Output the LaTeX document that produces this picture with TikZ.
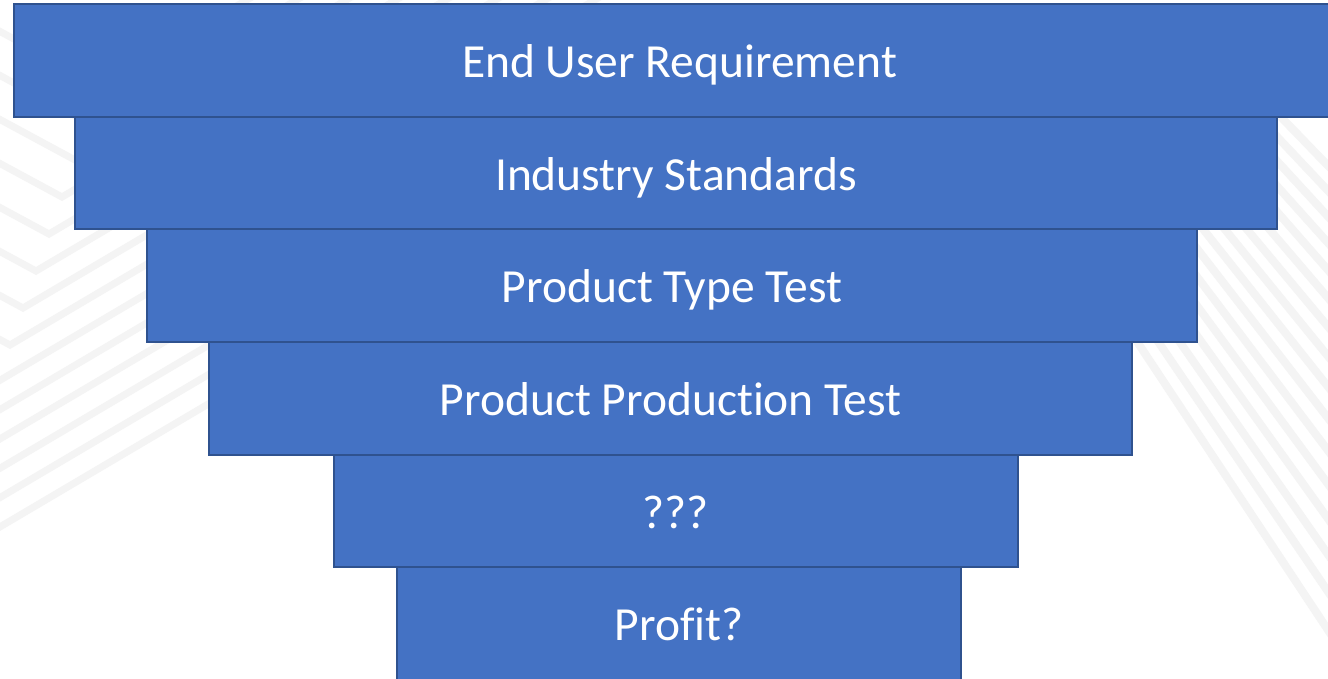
\documentclass[tikz,border=0pt]{standalone}
\usepackage{fontspec}
\setmainfont{Carlito}[Ligatures=NoCommon]
\definecolor{tierblue}{HTML}{4472C4}
\definecolor{tieredge}{HTML}{2F528F}
\definecolor{stripegray}{HTML}{F4F4F4}
\tikzset{
  tier/.style={
    draw=tieredge, fill=tierblue, line width=2pt, text=white,
    inner sep=0pt, text height=34pt, text depth=0pt,
    font=\fontsize{47.5}{57}\selectfont
  },
  bgstripe/.style={draw=stripegray, line width=7pt}
}
\begin{document}
\begin{tikzpicture}[x=1pt,y=-1pt]
  \useasboundingbox (0,0) rectangle (1328,678);
  \clip (0,0) rectangle (1328,678);
  \fill[white] (0,0) rectangle (1328,678);

  % faint chevrons, left
  \foreach \k in {-3,...,10}{
    \draw[bgstripe] ({62-13*\k-300},{197+37*\k-162}) -- ({62-13*\k},{197+37*\k})
      -- ({62-13*\k+600},{197+37*\k-354});
  }
  % faint fan of stripes, right
  \foreach \a in {46,46.7,...,56.6}{
    \draw[bgstripe,line width=8pt,shift={(351,-846)}] (\a:1300) -- (\a:2400);
  }

  % the tiers, widest on top
  \node[tier,minimum width=1331pt,minimum height=113pt] (req) at (679.5,60.5) {End User Requirement};
  \node[tier,minimum width=1202pt,minimum height=112pt] (std) at (676,173) {Industry Standards};
  \node[tier,minimum width=1050pt,minimum height=113pt] (type) at (672,285.5) {Product Type Test};
  \node[tier,minimum width=923pt,minimum height=113pt] (prod) at (670.5,398.5) {Product Production Test};
  \node[tier,minimum width=684pt,minimum height=112pt] (unk) at (676,511) {???};
  \node[tier,minimum width=564pt,minimum height=113pt] (profit) at (679,623.5) {Profit?};
\end{tikzpicture}
\end{document}
